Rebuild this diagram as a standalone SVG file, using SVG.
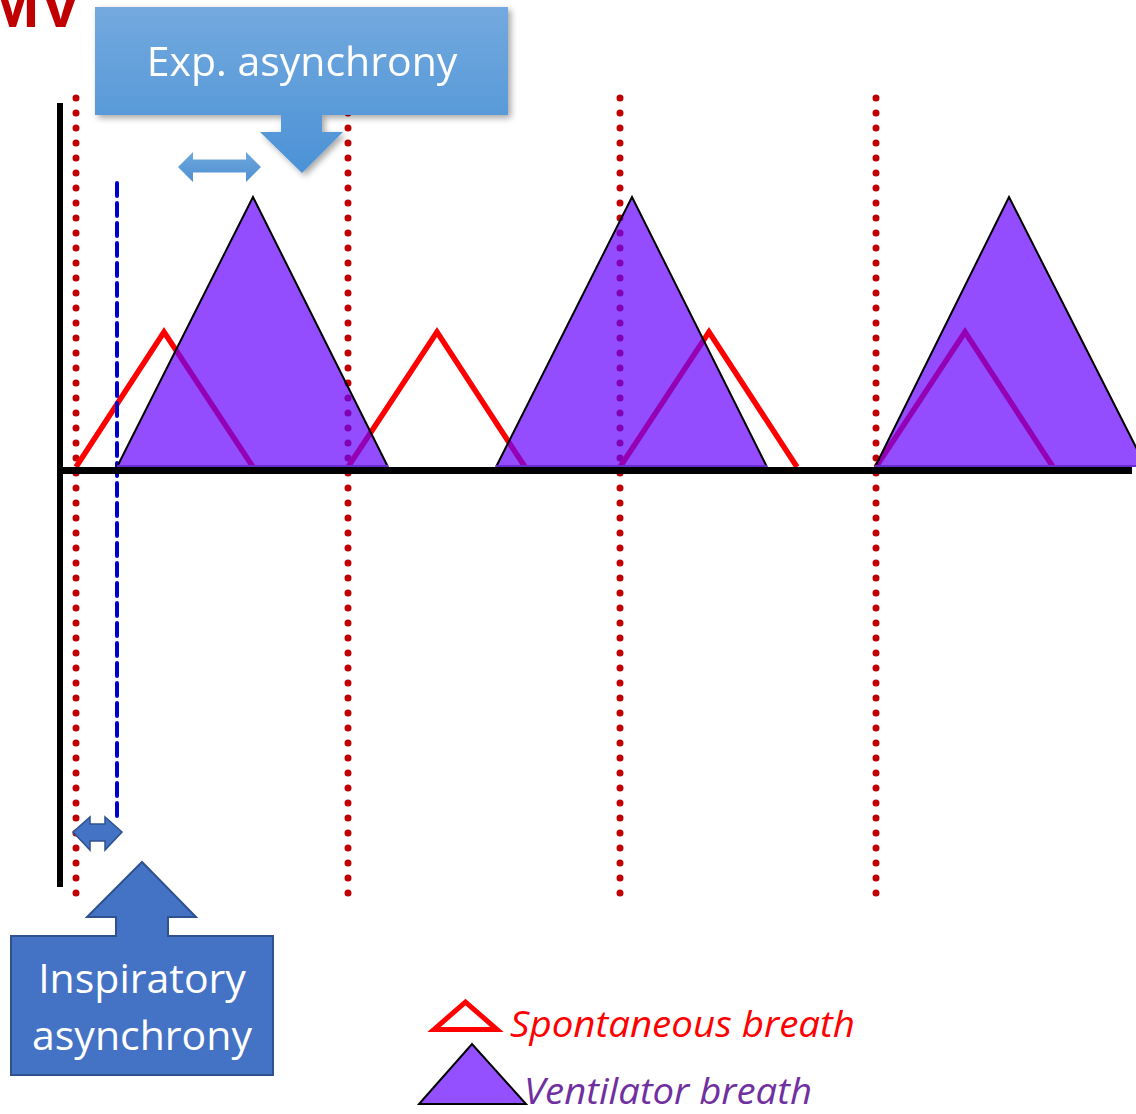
<svg xmlns="http://www.w3.org/2000/svg" width="1136" height="1114" viewBox="0 0 1136 1114">
  <style>
    .dots { stroke: #C00000; stroke-width: 7; stroke-linecap: round; stroke-dasharray: 0 15; fill: none; }
    .spont { fill: none; stroke: #FF0000; stroke-width: 5.5; stroke-linejoin: miter; }
    .vent { fill: #6600FF; fill-opacity: 0.7; stroke: none; }
    .vent-edge { fill: none; stroke: #000; stroke-width: 2; stroke-linejoin: miter; }
    .vent-base { stroke: #6A2BD0; stroke-width: 2; }
    .callout-text { font-family: "Open Sans", "Liberation Sans", sans-serif; fill: #FFFFFF; text-anchor: middle; }
    .legend-text { font-family: "Open Sans", "Liberation Sans", sans-serif; font-style: italic; font-size: 36px; }
  </style>
  <defs>
    <linearGradient id="expGrad" x1="0" y1="0" x2="0" y2="1">
      <stop offset="0" stop-color="#73A9DE"/>
      <stop offset="1" stop-color="#4B92D6"/>
    </linearGradient>
    <linearGradient id="dblGrad" x1="0" y1="0" x2="0" y2="1">
      <stop offset="0" stop-color="#6FA6DC"/>
      <stop offset="1" stop-color="#4E91D3"/>
    </linearGradient>
    <filter id="softShadow" x="-10%" y="-10%" width="125%" height="130%">
      <feDropShadow dx="3" dy="3" stdDeviation="3" flood-color="#000" flood-opacity="0.35"/>
    </filter>
  </defs>

  <rect width="1136" height="1114" fill="#FFFFFF"/>

  <!-- heading, running off the top-left page edge -->
  <text x="82" y="27" text-anchor="end" font-family="Liberation Sans, Arial, sans-serif" font-weight="bold" font-size="64" fill="#C00000">MV</text>

  <!-- trigger markers -->
  <g id="markers">
    <line class="dots" x1="76" y1="98" x2="76" y2="895"/>
    <line class="dots" x1="348" y1="98" x2="348" y2="895"/>
    <line class="dots" x1="620" y1="98" x2="620" y2="895"/>
    <line class="dots" x1="876" y1="98" x2="876" y2="895"/>
  </g>

  <!-- spontaneous breaths -->
  <g id="spontaneous">
    <polyline class="spont" points="76,467 164,332 253,467"/>
    <polyline class="spont" points="348,467 437,332 525,467"/>
    <polyline class="spont" points="620,467 709,332 797,467"/>
    <polyline class="spont" points="876,467 965,332 1053,467"/>
  </g>

  <!-- ventilator trigger delay -->
  <line id="trigger-delay" x1="117" y1="183" x2="117" y2="818" stroke="#0000CC" stroke-width="4" stroke-linecap="round" stroke-dasharray="13 7"/>

  <!-- ventilator breaths -->
  <g id="ventilator">
    <polygon class="vent" points="117,467 253,197 388,467"/>
    <polyline class="vent-edge" points="117,467 253,197 388,467"/>
    <line class="vent-base" x1="117" y1="466" x2="388" y2="466"/>
    <polygon class="vent" points="496,467 632,197 767,467"/>
    <polyline class="vent-edge" points="496,467 632,197 767,467"/>
    <line class="vent-base" x1="496" y1="466" x2="767" y2="466"/>
    <polygon class="vent" points="875,467 1009,197 1146,467"/>
    <polyline class="vent-edge" points="875,467 1009,197 1146,467"/>
    <line class="vent-base" x1="875" y1="466" x2="1136" y2="466"/>
  </g>

  <!-- axes -->
  <g id="axes">
    <line x1="60" y1="103" x2="60" y2="887" stroke="#000" stroke-width="6"/>
    <line x1="57" y1="470.5" x2="1132" y2="470.5" stroke="#000" stroke-width="7"/>
  </g>

  <!-- double-headed interval arrows -->
  <g id="connectors">
    <polygon points="178,167 193,152 193,159.5 246,159.5 246,152 261,167 246,182 246,172.5 193,172.5 193,182" fill="url(#dblGrad)"/>
    <polygon points="73,832 90,817 90,824 105,824 105,817 122,832 105,850 105,841 90,841 90,850" fill="#4472C4" stroke="#2F528F" stroke-width="1.5" stroke-linejoin="miter"/>
  </g>

  <!-- expiratory asynchrony callout -->
  <g id="exp-callout" filter="url(#softShadow)">
    <path d="M95,7 H508 V115 H322 V132 H343 L302,173 L260,132 H281 V115 H95 Z" fill="url(#expGrad)"/>
    <text class="callout-text" x="302" y="76" font-size="41">Exp. asynchrony</text>
  </g>

  <!-- inspiratory asynchrony callout -->
  <g id="insp-callout">
    <path d="M11,936 H116 V917 H87 L142,862 L196,917 H168 V936 H273 V1075 H11 Z" fill="#4472C4" stroke="#2F528F" stroke-width="2" stroke-linejoin="miter"/>
    <text class="callout-text" x="142" y="993" font-size="41">Inspiratory</text>
    <text class="callout-text" x="142" y="1050" font-size="41">asynchrony</text>
  </g>

  <!-- legend -->
  <g id="legend-spontaneous">
    <polygon points="434,1029.5 497,1029.5 465.5,1002" fill="#FFFFFF" stroke="#FF0000" stroke-width="5" stroke-linejoin="miter"/>
    <text class="legend-text" x="510" y="1037" fill="#FF0000" textLength="345" lengthAdjust="spacingAndGlyphs">Spontaneous breath</text>
  </g>
  <g id="legend-ventilator">
    <polygon points="419,1104 526,1104 472,1044" fill="#9450FF" stroke="#000" stroke-width="2"/>
    <text class="legend-text" x="524" y="1104" fill="#7030A0" textLength="288" lengthAdjust="spacingAndGlyphs">Ventilator breath</text>
  </g>
</svg>
